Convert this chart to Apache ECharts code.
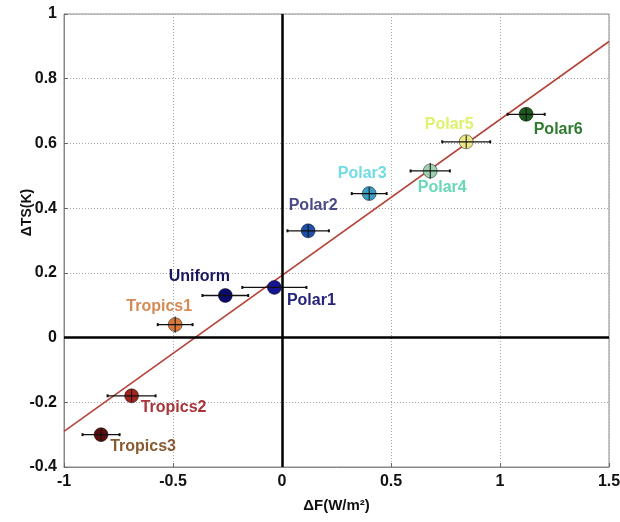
<!DOCTYPE html>
<html>
<head>
<meta charset="utf-8">
<script src="https://cdn.jsdelivr.net/npm/echarts@6/dist/echarts.min.js"></script>
<style>
html,body{margin:0;padding:0;background:#fff;}
#chart{width:620px;height:522px;}
</style>
</head>
<body>
<div id="chart"></div>
<script>
// ---- data ----
const names = ['Tropics3','Tropics2','Tropics1','Uniform','Polar1','Polar2','Polar3','Polar4','Polar5','Polar6'];
const dF    = [-0.83, -0.69, -0.49, -0.26, -0.035, 0.12, 0.40, 0.68, 0.845, 1.12];
const dTS   = [-0.30, -0.18, 0.04, 0.13, 0.155, 0.33, 0.445, 0.515, 0.605, 0.69];
const errF  = [0.085, 0.11, 0.08, 0.105, 0.147, 0.095, 0.08, 0.09, 0.11, 0.085];
const errTS = [0.02, 0.02, 0.025, 0.0, 0.0, 0.02, 0.02, 0.025, 0.02, 0.02];
const fitX  = [-1, 1.5];
const fitY  = [-0.29, 0.915];
const xTicks = [-1, -0.5, 0, 0.5, 1, 1.5];
const yTicks = [-0.4, -0.2, 0, 0.2, 0.4, 0.6, 0.8, 1];

// ---- styling ----
const markerColors = ['#5a0e0e','#a3231d','#d97a3a','#0b0b6b','#15158f','#1f50a8','#3a9cc0','#9fd0b0','#ece88a','#1d5a1e'];
const labelColors  = ['#8a5a30','#a8343a','#d58a55','#17175c','#25257a','#4a4a86','#70dce4','#68d8b8','#dff06a','#2e7a2e'];
const labelOffsets = [[42,12],[42,12],[-16,-18],[-26,-19],[37,13],[5,-25],[-7,-20],[12,17],[-17,-17],[32,15]];

const font = 'Liberation Sans, Arial, sans-serif';
const chart = echarts.init(document.getElementById('chart'));

const scatterData = names.map((n,i)=>({
  name:n,
  value:[dF[i], dTS[i]],
  itemStyle:{color:markerColors[i], borderColor:'rgba(0,0,0,0.45)', borderWidth:1, opacity:1},
  label:{offset:labelOffsets[i], color:labelColors[i]}
}));
const errData = names.map((n,i)=>[dF[i], dTS[i], errF[i], errTS[i]]);

chart.setOption({
  animation:false,
  backgroundColor:'#fff',
  grid:{left:64, right:11, top:14, bottom:55, show:true, borderColor:'#888', borderWidth:1,
        backgroundColor:'transparent', containLabel:false, outerBoundsMode:'none'},
  xAxis:{
    type:'value', min:xTicks[0], max:xTicks[xTicks.length-1], interval:0.5,
    name:'ΔF(W/m²)', nameLocation:'middle', nameGap:31, nameMoveOverlap:false,
    nameTextStyle:{fontFamily:font, fontWeight:'bold', fontSize:15, color:'#111'},
    axisLine:{show:true, onZero:false, lineStyle:{color:'#888', width:1}},
    axisTick:{show:true, inside:true, length:4, lineStyle:{color:'#666'}},
    axisLabel:{fontFamily:font, fontWeight:'bold', fontSize:16, color:'#111', margin:7},
    splitLine:{show:true, lineStyle:{type:[1,2], color:'#a8a8a8', width:1}}
  },
  yAxis:{
    type:'value', min:yTicks[0], max:yTicks[yTicks.length-1], interval:0.2,
    name:'ΔTS(K)', nameLocation:'middle', nameGap:30, nameRotate:90, nameMoveOverlap:false,
    nameTextStyle:{fontFamily:font, fontWeight:'bold', fontSize:14, color:'#111', padding:[0,0,0,56]},
    axisLine:{show:true, onZero:false, lineStyle:{color:'#888', width:1}},
    axisTick:{show:true, inside:true, length:4, lineStyle:{color:'#666'}},
    axisLabel:{fontFamily:font, fontWeight:'bold', fontSize:16, color:'#111', margin:7},
    splitLine:{show:true, lineStyle:{type:[1,2], color:'#a8a8a8', width:1}}
  },
  series:[
    {
      type:'line', z:2, data:fitX.map((x,i)=>[x, fitY[i]]),
      symbol:'none', lineStyle:{color:'#b5443a', width:1.6}, silent:true,
      markLine:{
        silent:true, symbol:'none', label:{show:false},
        lineStyle:{color:'#000', width:2.5, type:'solid'},
        data:[{xAxis:0},{yAxis:0}]
      }
    },
    {
      type:'scatter', z:3, symbol:'circle', symbolSize:14, data:scatterData,
      itemStyle:{opacity:1},
      label:{show:true, position:'inside', formatter:'{b}', fontFamily:font, fontWeight:'bold', fontSize:16, textBorderWidth:0}
    },
    {
      type:'custom', z:4, data:errData, silent:true,
      renderItem:function(params, api){
        const x=api.value(0), y=api.value(1), ex=api.value(2), ey=api.value(3);
        const l=api.coord([x-ex,y]), r=api.coord([x+ex,y]);
        const t=api.coord([x,y+ey]), b=api.coord([x,y-ey]);
        const st={stroke:'#111', lineWidth:1.3};
        const ch=[
          {type:'line', shape:{x1:l[0],y1:l[1],x2:r[0],y2:r[1]}, style:st},
          {type:'line', shape:{x1:l[0],y1:l[1]-1.5,x2:l[0],y2:l[1]+1.5}, style:{stroke:'#111',lineWidth:2}},
          {type:'line', shape:{x1:r[0],y1:r[1]-1.5,x2:r[0],y2:r[1]+1.5}, style:{stroke:'#111',lineWidth:2}}
        ];
        if (ey>0) ch.push({type:'line', shape:{x1:t[0],y1:t[1],x2:b[0],y2:b[1]}, style:{stroke:'#111', lineWidth:1}});
        return {type:'group', children:ch};
      }
    }
  ]
});
</script>
</body>
</html>
